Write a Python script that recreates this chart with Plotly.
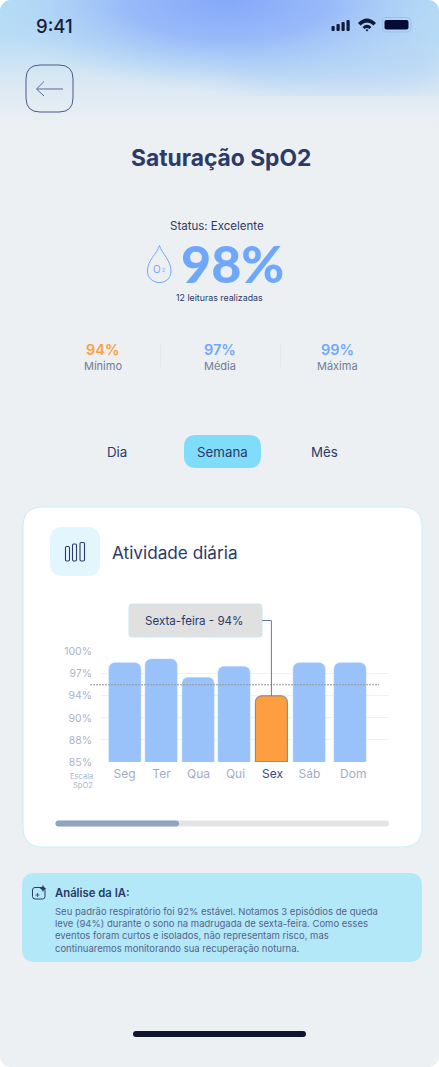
import base64, re
import numpy as np
import plotly.graph_objects as go

# ---- data ----
days = ["Seg", "Ter", "Qua", "Qui", "Sex", "Sáb", "Dom"]
spo2 = [98.5, 99, 96.5, 98, 94, 98.5, 98.5]
highlight_day = "Sex"
scale_ticks = [85, 88, 90, 94, 97, 100]
reference_level = 95.5
stats_labels = ["Mínimo", "Média", "Máxima"]
stats_values = ["94%", "97%", "99%"]
tabs = ["Dia", "Semana", "Mês"]
ai_lines = [
    "Seu padrão respiratório foi 92% estável. Notamos 3 episódios de queda",
    "leve (94%) durante o sono na madrugada de sexta-feira. Como esses",
    "eventos foram curtos e isolados, não representam risco, mas",
    "continuaremos monitorando sua recuperação noturna.",
]

# ---- layout constants ----
W, H = 439, 1067
FONT = "Inter"
NAVY = "#2b3a67"
BLUE = "#6fa8fb"
ORANGE = "#fd9f41"
bar_nudge = [0.01, -0.01, -0.01, -0.04, -0.03, -0.01, 0.095]  # category units
BAR_W = 0.865
PX_LEFT, PX_RIGHT, PX_TOP, PX_BOTTOM = 101, 389, 651.7, 761.9
FIRST_CENTER, STEP = 124.5, 37


def px(x):
    return x / W


def py(y):
    return 1 - y / H


def path(d):
    out, parts = [], re.findall(r"[MLCQZ]|-?\d+\.?\d*", d)
    i = 0
    while i < len(parts):
        if parts[i] in "MLCQZ":
            out.append(parts[i])
            i += 1
        else:
            out.append(f"{px(float(parts[i])):.5f},{py(float(parts[i + 1])):.5f}")
            i += 2
    return " ".join(out)


def rrect_d(x0, y0, x1, y1, r):
    return (f"M {x0 + r} {y0} L {x1 - r} {y0} Q {x1} {y0} {x1} {y0 + r} L {x1} {y1 - r} "
            f"Q {x1} {y1} {x1 - r} {y1} L {x0 + r} {y1} Q {x0} {y1} {x0} {y1 - r} "
            f"L {x0} {y0 + r} Q {x0} {y0} {x0 + r} {y0} Z")


shapes, notes = [], []


def add_path(d, fill=None, line=None, lw=1, layer="below", dash=None):
    shapes.append(dict(type="path", xref="paper", yref="paper", path=path(d), layer=layer,
                       fillcolor=fill or "rgba(0,0,0,0)",
                       line=dict(color=line or "rgba(0,0,0,0)", width=lw if line else 0, dash=dash)))


def rrect(x0, y0, x1, y1, r, fill=None, line=None, lw=1, layer="below"):
    add_path(rrect_d(x0, y0, x1, y1, r), fill, line, lw, layer)


def text(x, y, s, size, color, weight=400, anchor="center", font=FONT):
    notes.append(dict(xref="paper", yref="paper", x=px(x), y=py(y), text=s, showarrow=False,
                      xanchor=anchor, yanchor="middle", borderpad=0,
                      font=dict(family=font, size=size, color=color, weight=weight)))


# ---- background (page gradient) ----
svg = f'''<svg xmlns="http://www.w3.org/2000/svg" width="{W}" height="{H}" viewBox="0 0 {W} {H}">
<defs>
<radialGradient id="a" cx="0.5" cy="0.5" r="0.5">
<stop offset="0" stop-color="#85a7fa"/><stop offset="0.45" stop-color="#98b9f9" stop-opacity="0.95"/>
<stop offset="0.75" stop-color="#a9cbf7" stop-opacity="0.55"/>
<stop offset="1" stop-color="#b4d6f6" stop-opacity="0"/></radialGradient>
<linearGradient id="b" x1="0" y1="0" x2="0" y2="1">
<stop offset="0" stop-color="#b3dcf6"/><stop offset="0.3" stop-color="#badcf5"/><stop offset="0.62" stop-color="#d8e7f3"/><stop offset="1" stop-color="#ecf0f3"/></linearGradient>
<filter id="f"><feGaussianBlur stdDeviation="18"/></filter>
</defs>
<clipPath id="c"><rect width="{W}" height="{H}" rx="11"/></clipPath>
<g clip-path="url(#c)">
<rect width="{W}" height="{H}" fill="#ecf0f3"/>
<rect width="{W}" height="125" fill="url(#b)"/>
<ellipse cx="340" cy="62" rx="115" ry="28" fill="#aed0f6" opacity="0.75" filter="url(#f)"/>
<ellipse cx="228" cy="0" rx="235" ry="92" fill="url(#a)"/>
</g></svg>'''
bg_uri = "data:image/svg+xml;base64," + base64.b64encode(svg.encode()).decode()

# ---- status bar ----
text(54, 25.5, "9:41", 18.5, "#14203a", 500)
for x0, y0 in zip([331.5, 336.5, 341.5, 346.5], [26, 24, 22, 20]):
    rrect(x0, y0, x0 + 3.2, 31, 1, fill="#0f1a3a", layer="above")
add_path("M 358 23 Q 367 14 376 23 L 373.5 25.5 Q 367 19.5 360.5 25.5 Z", fill="#0f1a3a", layer="above")
add_path("M 362.5 27 Q 367 22.5 371.5 27 L 369.5 29 Q 367 26.8 364.5 29 Z", fill="#0f1a3a", layer="above")
add_path("M 365.5 30 Q 367 28.6 368.5 30 L 367 31.5 Z", fill="#0f1a3a", layer="above")
rrect(382.5, 17.5, 411, 32, 4, line="#9cc0e6", lw=1, layer="above")
rrect(384.5, 20, 408.5, 29.5, 2, fill="#050b35", layer="above")

# ---- back button ----
rrect(26, 65, 73, 112, 14, line="#4a5a85", lw=1)
add_path("M 37 89 L 63 89 M 44 81.5 L 36.5 89 L 44 96", line="#5a6a92", lw=1)

text(221, 157, "Saturação SpO2", 22.8, NAVY, 700)

# ---- hero block ----
text(216.5, 225.5, "Status: Excelente", 11.5, NAVY)
text(232.5, 263, "98%", 52, BLUE, 900, font="Lato")
text(219, 297, "12 leituras realizadas", 8.8, NAVY, 400)
add_path("M 159.5 245.5 C 157 254 147.5 260 147.5 271 C 147.5 278 153 282.5 159.5 282.5 "
         "C 166 282.5 171 278 171 271 C 171 260 162 254 159.5 245.5 Z", line=BLUE, lw=1)
text(157, 268.5, "O", 10, BLUE)
text(163.7, 270, "2", 5, BLUE)

# ---- stats ----
for x, lab, val, col in zip([103, 220, 337], stats_labels, stats_values, [ORANGE, BLUE, BLUE]):
    text(x, 349.5, val, 14.5, col, 600)
    text(x, 366, lab, 11, "#6f7c96")
for x in [160.5, 280.5]:
    add_path(f"M {x} 344 L {x} 367", line="#e2e6ea", lw=1)

# ---- tabs ----
rrect(184, 435, 261, 468, 12, fill="#7fdcfb")
for x, t in zip([117, 222, 324.5], tabs):
    text(x, 451.5, t, 13.3, NAVY)

# ---- chart card ----
rrect(23, 507, 422, 847, 20, fill="#ffffff", line="#c8eef8", lw=1)
rrect(50, 527, 100, 576, 13, fill="#e3f6fe")
for x0, x1, y0 in zip([65.5, 72.5, 80], [69.5, 76.5, 84.5], [546.5, 544, 542.5]):
    rrect(x0, y0, x1, 561, 1.2, line=NAVY, lw=1.1)
text(110.7, 552, "Atividade diária", 17.2, NAVY, 400, "left")

# scroll track
rrect(55.5, 820.5, 389, 826.5, 3, fill="#e4e4e4")
rrect(55.5, 820.5, 179, 826.5, 3, fill="#8fa3c2")

# tooltip
sex_i = days.index(highlight_day)
rrect(129, 604, 262, 637, 3, fill="#e0e0e0", line="#c4eaf5", lw=1)
text(194, 621, f"Sexta-feira - {spo2[sex_i]}%", 11.6, NAVY)

# ---- AI card ----
rrect(22, 873, 422, 962, 13, fill="#b3e8f8")
rrect(32.5, 887.5, 45, 899, 2.5, line=NAVY, lw=1)
add_path("M 37.5 893 L 37.5 897 M 35.5 895 L 39.5 895", line=NAVY, lw=0.8)
add_path("M 43 884.5 Q 43.5 888 46.5 888.5 Q 43.5 889 43 892.5 Q 42.5 889 39.5 888.5 Q 42.5 888 43 884.5 Z", fill=NAVY)
text(54, 893, "Análise da IA:", 11.3, NAVY, 600, "left")
for y, line in zip([911, 923, 935.3, 948], ai_lines):
    text(54, y, line, 9.5, "#55648c", 400, "left")

# home indicator
rrect(133, 1031, 306, 1037, 3, fill="#0f1430")

# ---- chart ----
positions = np.interp(spo2, scale_ticks, np.arange(len(scale_ticks)))
ref_pos = float(np.interp(reference_level, scale_ticks, np.arange(len(scale_ticks))))
colors = [ORANGE if d == highlight_day else "#9ac2fa" for d in days]
line_cols = ["#5f6f8f" if d == highlight_day else "#a9cbfb" for d in days]
line_w = [0.8 if d == highlight_day else 0.5 for d in days]

fig = go.Figure(go.Bar(
    x=days, y=positions, customdata=spo2, hovertemplate="%{x}: %{customdata}%<extra></extra>",
    width=BAR_W, offset=[-BAR_W / 2 + n for n in bar_nudge],
    marker=dict(color=colors, line=dict(color=line_cols, width=line_w)),
))

# overlay lines
shapes.append(dict(type="line", xref="paper", yref="y", x0=px(90), x1=px(379), y0=ref_pos, y1=ref_pos,
                   layer="above", line=dict(color="#969696", width=1, dash="2px,1px")))
sex_px = FIRST_CENTER + STEP * sex_i + bar_nudge[sex_i] * STEP
add_path(f"M 262 620.5 L {sex_px:.1f} 620.5 L {sex_px:.1f} 696", line="#6c7896", lw=1, layer="above")

ticktext = [f'<span style="color:#3a4873">{d}</span>' if d == highlight_day else d for d in days]
ticktext[-1] = "\u00a0\u00a0\u00a0\u00a0" + ticktext[-1]
text(94, 776.5, "Escala", 7.6, "#aab5ca", anchor="right")
text(94, 785, "SpO2", 7.6, "#aab5ca", anchor="right")

fig.update_layout(
    width=W, height=H, margin=dict(l=0, r=0, t=0, b=0, autoexpand=False),
    paper_bgcolor="#ffffff", plot_bgcolor="rgba(0,0,0,0)", showlegend=False, barcornerradius=6,
    images=[dict(source=bg_uri, xref="paper", yref="paper", x=0, y=1, sizex=1, sizey=1,
                 xanchor="left", yanchor="top", sizing="stretch", layer="below")],
    shapes=shapes, annotations=notes,
    xaxis=dict(domain=[px(PX_LEFT), px(PX_RIGHT)], type="category", categoryorder="array", categoryarray=days,
               range=[(PX_LEFT - FIRST_CENTER) / STEP, (PX_RIGHT - FIRST_CENTER) / STEP],
               tickmode="array", tickvals=days, ticktext=ticktext,
               showgrid=False, zeroline=False, showline=False, ticks="", ticklabelstandoff=3,
               tickfont=dict(family=FONT, size=12, color="#a2acc4"), fixedrange=True),
    yaxis=dict(domain=[py(PX_BOTTOM), py(PX_TOP)], range=[0, len(scale_ticks) - 1],
               tickmode="array", tickvals=list(range(len(scale_ticks))),
               ticktext=[f"{t}%" for t in scale_ticks], showgrid=True, gridcolor="#f1f2f5", gridwidth=1,
               zeroline=False, showline=False, ticks="", ticklabelstandoff=8,
               tickfont=dict(family=FONT, size=10.5, color="#a9b4c8"), fixedrange=True),
)

fig.write_html("out.html", config=dict(displayModeBar=False),
               post_script="document.body.style.margin='0';")
